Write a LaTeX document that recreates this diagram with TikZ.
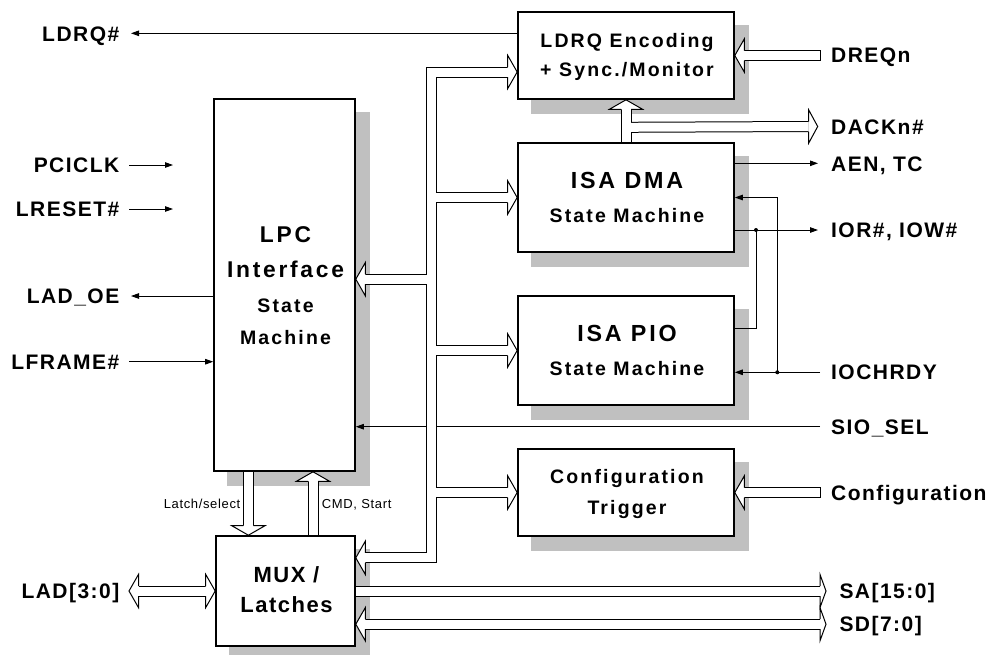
\documentclass[tikz,border=0pt]{standalone}
\usepackage{fontspec}
\setmainfont{Liberation Sans}
\newfontfamily\outf{Liberation Sans}[LetterSpace=7]
\newfontfamily\bigf{Liberation Sans}[LetterSpace=12]
\newfontfamily\boxf{Liberation Sans}[LetterSpace=11]
\newfontfamily\muxf{Liberation Sans}[LetterSpace=7]
\newfontfamily\smf{Liberation Sans}[LetterSpace=5]
\usetikzlibrary{arrows.meta,calc}
\pgfdeclarelayer{shad}
\pgfdeclarelayer{mid}
\pgfsetlayers{shad,mid,main}
\definecolor{shadc}{HTML}{C0C0C0}
\newcommand\hdR[2][9.5]{\filldraw[hd,shift={#2}] (-#1,-5)--(-#1,-16.6)--(0,0)--(-#1,16.6)--(-#1,5);}
\newcommand\hdL[2][9.5]{\filldraw[hd,shift={#2}] (#1,-5)--(#1,-16.6)--(0,0)--(#1,16.6)--(#1,5);}
\newcommand\hdU[2][9.5]{\filldraw[hd,shift={#2}] (-5,#1)--(-16.6,#1)--(0,0)--(16.6,#1)--(5,#1);}
\newcommand\hdD[2][9.5]{\filldraw[hd,shift={#2}] (-5,-#1)--(-16.6,-#1)--(0,0)--(16.6,-#1)--(5,-#1);}
\begin{document}
\begin{tikzpicture}[x=1pt,y=-1pt,
  box/.style={draw=black,line width=1.6pt,fill=white,inner sep=0pt},
  hd/.style={fill=white,draw=black,line width=1pt,line join=miter},
  po/.style={black,line width=11pt,line join=miter},
  pi/.style={white,line width=9pt,line join=miter},
  sig/.style={line width=0.9pt},
  arr/.style={sig,-{Triangle[length=8pt,width=5.5pt]}},
  lbL/.style={anchor=base east,inner sep=0pt,font=\outf\bfseries\fontsize{21}{21}\selectfont},
  lbR/.style={anchor=base west,inner sep=0pt,font=\outf\bfseries\fontsize{21}{21}\selectfont},
  btBig/.style={anchor=base,inner sep=0pt,font=\bigf\bfseries\fontsize{23.3}{23.3}\selectfont},
  btLpc/.style={anchor=base,inner sep=0pt,font=\bigf\bfseries\fontsize{22.8}{22.8}\selectfont},
  btLpcS/.style={anchor=base,inner sep=0pt,font=\boxf\bfseries\fontsize{19.5}{19.5}\selectfont},
  btSm/.style={anchor=base,inner sep=0pt,font=\boxf\bfseries\fontsize{19.5}{19.5}\selectfont},
  btMux/.style={anchor=base,inner sep=0pt,font=\muxf\bfseries\fontsize{22}{22}\selectfont},
  pl/.style={inner sep=0pt,font=\smf\fontsize{13}{13}\selectfont}]
\useasboundingbox (0,0) rectangle (986,654);

% ---------- boxes ----------
\node[box,minimum width=216pt,minimum height=87pt]  (ldrq) at (626,55.5) {};
\node[box,minimum width=216pt,minimum height=109pt] (dma)  at (626,197.5) {};
\node[box,minimum width=216pt,minimum height=109pt] (pio)  at (626,350.5) {};
\node[box,minimum width=216pt,minimum height=87pt]  (cfg)  at (626,492.5) {};
\node[box,minimum width=141pt,minimum height=372pt] (lpc)  at (284.5,285) {};
\node[box,minimum width=139pt,minimum height=110pt] (mux)  at (285.5,591) {};

% ---------- box texts ----------
\node[btSm] (ldrqA) at ($(ldrq.north)+(1,35.8)$) {LDRQ Encoding};
\node[btSm] (ldrqB) at ($(ldrq.north)+(1,65.3)$) {+ Sync./Monitor};
\node[btBig] (dmaA) at ($(dma.north)+(1,46.6)$) {ISA DMA};
\node[btSm] (dmaB) at ($(dma.north)+(1,80.4)$) {State Machine};
\node[btBig] (pioA) at ($(pio.north)+(1,46.6)$) {ISA PIO};
\node[btSm] (pioB) at ($(pio.north)+(1,80.4)$) {State Machine};
\node[btSm] (cfgA) at ($(cfg.north)+(1,35.2)$) {Configuration};
\node[btSm] (cfgB) at ($(cfg.north)+(1,66)$) {Trigger};
\node[btLpc] (lpcA) at ($(lpc.north)+(1,144.3)$) {LPC};
\node[btLpc] (lpcB) at ($(lpc.north)+(1,179.3)$) {Interface};
\node[btLpcS] (lpcC) at ($(lpc.north)+(1,214.3)$) {State};
\node[btLpcS] (lpcD) at ($(lpc.north)+(1,246)$) {Machine};
\node[btMux] (muxA) at ($(mux.north)+(1,47.3)$) {MUX /};
\node[btMux] (muxB) at ($(mux.north)+(1,77.3)$) {Latches};

% ---------- outer labels ----------
\node[lbL] (lLdrq) at (119.5,41) {LDRQ\#};
\node[lbL] (lPci) at (119.5,172.5) {PCICLK};
\node[lbL] (lRst) at (119.5,216.5) {LRESET\#};
\node[lbL] (lOe) at (119.5,303.5) {LAD\_OE};
\node[lbL] (lFr) at (119.5,369) {LFRAME\#};
\node[lbL] (lLad) at (119.5,598.5) {LAD[3:0]};
\node[lbR] (lDreq) at (831,62.5) {DREQn};
\node[lbR] (lDack) at (831,134) {DACKn\#};
\node[lbR] (lAen) at (831,171.8) {AEN, TC};
\node[lbR] (lIor) at (831,237.5) {IOR\#, IOW\#};
\node[lbR] (lIoch) at (831,379) {IOCHRDY};
\node[lbR] (lSio) at (831,434) {SIO\_SEL};
\node[lbR] (lConf) at (831,500) {Configuration};
\node[lbR] (lSa) at (839.3,598.5) {SA[15:0]};
\node[lbR] (lSd) at (839.3,631.8) {SD[7:0]};
\node[pl,anchor=base east] (lLat) at (240.5,508.7) {Latch/select};
\node[pl,anchor=base west] (lCmd) at (321.7,508.7) {CMD, Start};

% ---------- coordinates ----------
\coordinate (bx) at (431.7,0);
\coordinate (tLdrq) at ($(ldrq.west)+(0,16.5)$);
\coordinate (tMux) at ($(mux.east)+(0,-33.2)$);
\coordinate (tLpc) at ($(lpc.east)+(0,-5.8)$);
\coordinate (tLat) at ($(mux.north)+(-37.1,0)$);
\coordinate (tCmd) at ($(lpc.south)+(28.5,0)$);
\coordinate (dackJ) at ($(ldrq.south)+(0,27.5)$);
\coordinate (dackT) at (817.7,126.5);
\coordinate (dreqE) at (820,55.5);
\coordinate (confE) at (820,492.5);
\coordinate (ladT) at (129,591);
\coordinate (saT) at (826,591);
\coordinate (sdL) at ($(mux.east)+(0,33.2)$);
\coordinate (sdT) at (826,624.2);
\coordinate (aLdrq) at (131,33.3);
\coordinate (sPci) at (129,165);
\coordinate (ePci) at (173,165);
\coordinate (sRst) at (129,209);
\coordinate (eRst) at (173,209);
\coordinate (aOe) at (131,296);
\coordinate (sFr) at (129,361.7);
\coordinate (sSio) at (820,426.7);
\coordinate (aAen) at (818,163.3);
\coordinate (aIor) at (818,230);
\coordinate (sIoch) at (820,372.3);
\coordinate (dotA) at (756,230);
\coordinate (dotB) at (777.3,372.3);

% ---------- shadows ----------
\begin{pgfonlayer}{shad}
\foreach \n in {ldrq,dma,pio,cfg,lpc,mux}
  \fill[shadc] ($(\n.south west)+(14,14)$) rectangle ($(\n.north east)+(14,14)$);
\end{pgfonlayer}

\begin{pgfonlayer}{mid}
% ---------- thin signals ----------
\draw[arr] ($(ldrq.west)+(0,-22.2)$) -- (aLdrq);
\draw[arr] (sPci) -- (ePci);
\draw[arr] (sRst) -- (eRst);
\draw[arr] ($(lpc.west)+(0,11)$) -- (aOe);
\draw[arr] (sFr) -- ($(lpc.west)+(0,76.7)$);
\draw[arr] (sSio) -- ($(lpc.east)+(0,141.7)$);
\draw[arr] ($(dma.east)+(0,-34.2)$) -- (aAen);
\draw[arr] ($(dma.east)+(0,32.5)$) -- (aIor);
\draw[sig] (dotA) |- ($(pio.east)+(0,-22.2)$);
\draw[arr] (sIoch) -- ($(pio.east)+(0,21.8)$);
\draw[arr] (dotB) |- (dma.east);
\fill (dotA) circle (2);
\fill (dotB) circle (2);

% ---------- hollow buses ----------
\foreach \s in {po,pi}{
  \draw[\s] ($(tMux)+(9.5,0)$) -| (bx |- tLdrq) -- ($(tLdrq)+(-9.5,0)$);
  \draw[\s] (bx |- tLpc) -- ($(tLpc)+(9.5,0)$);
  \draw[\s] (bx |- dma.west) -- ($(dma.west)+(-9.5,0)$);
  \draw[\s] (bx |- pio.west) -- ($(pio.west)+(-9.5,0)$);
  \draw[\s] (bx |- cfg.west) -- ($(cfg.west)+(-9.5,0)$);
  \draw[\s] (tLat |- lpc.south) -- ($(tLat)+(0,-9.5)$);
  \draw[\s] (tCmd |- mux.north) -- ($(tCmd)+(0,9.5)$);
  \draw[\s] (dma.north) -- ($(ldrq.south)+(0,9.5)$);
  \draw[\s] (dackJ) -- ($(dackT)+(-9,0)$);
  \draw[\s] (dreqE) -- ($(ldrq.east)+(9.5,0)$);
  \draw[\s] (confE) -- ($(cfg.east)+(9.5,0)$);
  \draw[\s] ($(ladT)+(9.5,0)$) -- ($(mux.west)+(-9.5,0)$);
  \draw[\s] (mux.east) -- ($(saT)+(-6,0)$);
  \draw[\s] ($(sdL)+(9.5,0)$) -- ($(sdT)+(-6,0)$);
}
\draw[hd] ($(dreqE)+(0,-5.5)$) -- ($(dreqE)+(0,5.5)$);
\draw[hd] ($(confE)+(0,-5.5)$) -- ($(confE)+(0,5.5)$);
\hdR{(tLdrq)}
\hdL{(tMux)}
\hdL{(tLpc)}
\hdR{(dma.west)}
\hdR{(pio.west)}
\hdR{(cfg.west)}
\hdD{(tLat)}
\hdU{(tCmd)}
\hdU{(ldrq.south)}
\hdR[9]{(dackT)}
\hdL{(ldrq.east)}
\hdL{(cfg.east)}
\hdL{(ladT)}
\hdR{(mux.west)}
\hdR[6]{(saT)}
\hdR[6]{(sdT)}
\hdL{(sdL)}
\end{pgfonlayer}
\end{tikzpicture}
\end{document}
